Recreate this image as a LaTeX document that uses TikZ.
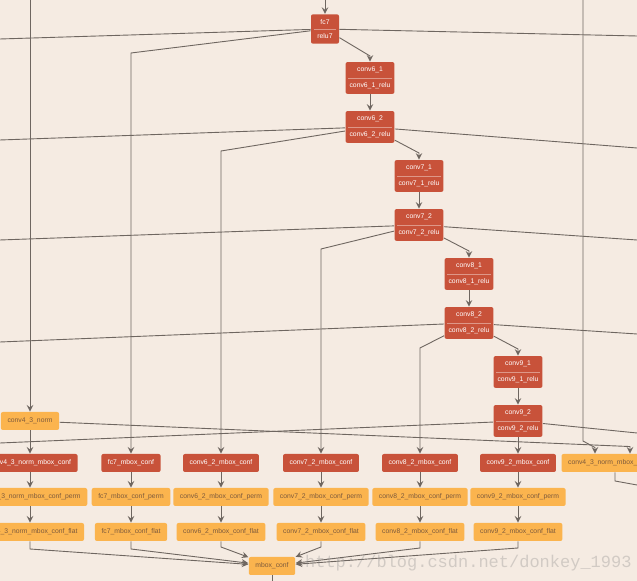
\documentclass[tikz,border=0pt]{standalone}
\usepackage{fontspec}
\setmainfont{Liberation Sans}
\setmonofont{Liberation Mono}
\usetikzlibrary{shapes.multipart}
\definecolor{paper}{HTML}{F5EBE2}
\definecolor{convred}{HTML}{C8523A}
\definecolor{blobgold}{HTML}{FBB44E}
\definecolor{goldtext}{HTML}{7D5A3C}
\definecolor{edgegray}{HTML}{6E6660}

\begin{document}
\begin{tikzpicture}[x=0.5pt, y=-0.5pt, ->, >=stealth, line width=0.45pt, edgegray,
	layer/.style={rectangle split, rectangle split parts=2, fill=convred, text=white, rounded corners=1pt, inner xsep=2pt, inner ysep=2.2pt, font=\fontsize{3.4}{4}\selectfont},
	conf/.style={rectangle, fill=convred, text=white, rounded corners=1pt, minimum height=9pt, inner xsep=3.3pt, inner ysep=0pt, font=\fontsize{3.4}{4}\selectfont},
	blob/.style={conf, fill=blobgold, text=goldtext}]
	\useasboundingbox (0,0) rectangle (637,581);
	\clip (0,0) rectangle (637,581);
	\fill[paper] (0,0) rectangle (637,581);

	\node[layer, minimum width=14pt] (fc7) at (325,29) {fc7\nodepart{two}relu7};
	\node[layer] (conv61) at (370,78) {conv6\_1\nodepart{two}conv6\_1\_relu};
	\node[layer] (conv62) at (370,127) {conv6\_2\nodepart{two}conv6\_2\_relu};
	\node[layer] (conv71) at (419,176) {conv7\_1\nodepart{two}conv7\_1\_relu};
	\node[layer] (conv72) at (419,225) {conv7\_2\nodepart{two}conv7\_2\_relu};
	\node[layer] (conv81) at (469,274) {conv8\_1\nodepart{two}conv8\_1\_relu};
	\node[layer] (conv82) at (469,323) {conv8\_2\nodepart{two}conv8\_2\_relu};
	\node[layer] (conv91) at (518,372) {conv9\_1\nodepart{two}conv9\_1\_relu};
	\node[layer] (conv92) at (518,421) {conv9\_2\nodepart{two}conv9\_2\_relu};
	\foreach \n in {fc7,conv61,conv62,conv71,conv72,conv81,conv82,conv91,conv92}
		\draw[-, white, opacity=.4, line width=0.3pt] ([xshift=1.5pt]\n.text split west) -- ([xshift=-1.5pt]\n.text split east);

	\node[blob] (norm) at (30,421) {conv4\_3\_norm};

	\node[conf] (normconf) at (30,463) {conv4\_3\_norm\_mbox\_conf};
	\node[conf] (fc7conf) at (131,463) {fc7\_mbox\_conf};
	\node[conf] (c62conf) at (221,463) {conv6\_2\_mbox\_conf};
	\node[conf] (c72conf) at (321,463) {conv7\_2\_mbox\_conf};
	\node[conf] (c82conf) at (420,463) {conv8\_2\_mbox\_conf};
	\node[conf] (c92conf) at (518,463) {conv9\_2\_mbox\_conf};
	\node[blob] (normprior) at (615,463) {conv4\_3\_norm\_mbox\_priorbox};

	\node[blob] (normperm) at (30,497) {conv4\_3\_norm\_mbox\_conf\_perm};
	\node[blob] (fc7perm) at (131,497) {fc7\_mbox\_conf\_perm};
	\node[blob] (c62perm) at (221,497) {conv6\_2\_mbox\_conf\_perm};
	\node[blob] (c72perm) at (321,497) {conv7\_2\_mbox\_conf\_perm};
	\node[blob] (c82perm) at (420,497) {conv8\_2\_mbox\_conf\_perm};
	\node[blob] (c92perm) at (518,497) {conv9\_2\_mbox\_conf\_perm};

	\node[blob] (normflat) at (30,532) {conv4\_3\_norm\_mbox\_conf\_flat};
	\node[blob] (fc7flat) at (131,532) {fc7\_mbox\_conf\_flat};
	\node[blob] (c62flat) at (221,532) {conv6\_2\_mbox\_conf\_flat};
	\node[blob] (c72flat) at (321,532) {conv7\_2\_mbox\_conf\_flat};
	\node[blob] (c82flat) at (420,532) {conv8\_2\_mbox\_conf\_flat};
	\node[blob] (c92flat) at (518,532) {conv9\_2\_mbox\_conf\_flat};

	\node[blob] (mboxconf) at (272,566) {mbox\_conf};

	\coordinate (fc7in) at (325,0);
	\coordinate (normin) at (30,0);
	\coordinate (datain) at (583,0);
	\coordinate (fc7l) at (0,39);
	\coordinate (fc7r) at (637,36);
	\coordinate (conv62l) at (0,140);
	\coordinate (conv62r) at (637,148);
	\coordinate (conv72l) at (0,240);
	\coordinate (conv72r) at (637,240);
	\coordinate (conv82l) at (0,342);
	\coordinate (conv82r) at (637,334);
	\coordinate (conv92l) at (0,443);
	\coordinate (conv92r) at (637,433);
	\coordinate (priorout) at (637,485);
	\coordinate (confout) at (272,581);

	\draw (fc7in) -- (fc7);
	\draw (normin) -- (norm);
	\draw (datain) -- (583,441) -- ([shift={(-20,-6)}]normprior.north) -- ([xshift=-10pt]normprior.north);
	\draw (fc7) -- (conv61.north |- 0,56) -- (conv61);
	\draw (fc7) -- (fc7conf.north |- 0,53) -- (fc7conf);
	\draw[-] (fc7) -- (fc7l);
	\draw[-] (fc7) -- (fc7r);
	\draw (conv61) -- (conv62);
	\draw (conv62) -- (conv71.north |- 0,153) -- (conv71);
	\draw (conv62) -- (c62conf.north |- 0,151) -- (c62conf);
	\draw[-] (conv62) -- (conv62l);
	\draw[-] (conv62) -- (conv62r);
	\draw (conv71) -- (conv72);
	\draw (conv72) -- (conv81.north |- 0,251) -- (conv81);
	\draw (conv72) -- (c72conf.north |- 0,249) -- (c72conf);
	\draw[-] (conv72) -- (conv72l);
	\draw[-] (conv72) -- (conv72r);
	\draw (conv81) -- (conv82);
	\draw (conv82) -- (conv91.north |- 0,349) -- (conv91);
	\draw (conv82) -- (c82conf.north |- 0,348) -- (c82conf);
	\draw[-] (conv82) -- (conv82l);
	\draw[-] (conv82) -- (conv82r);
	\draw (conv91) -- (conv92);
	\draw (conv92) -- (c92conf);
	\draw[-] (conv92) -- (conv92l);
	\draw[-] (conv92) -- (conv92r);
	\draw (norm) -- (normconf);
	\draw (norm) -- ([shift={(15,-7)}]normprior.north) -- ([xshift=7.5pt]normprior.north);
	\draw[-] (normprior) -- (normprior.south |- 0,481) -- (priorout);

	\draw (normconf) -- (normperm);
	\draw (fc7conf) -- (fc7perm);
	\draw (c62conf) -- (c62perm);
	\draw (c72conf) -- (c72perm);
	\draw (c82conf) -- (c82perm);
	\draw (c92conf) -- (c92perm);
	\draw (normperm) -- (normflat);
	\draw (fc7perm) -- (fc7flat);
	\draw (c62perm) -- (c62flat);
	\draw (c72perm) -- (c72flat);
	\draw (c82perm) -- (c82flat);
	\draw (c92perm) -- (c92flat);

	\draw (normflat) -- (normflat.south |- 0,549) -- (mboxconf);
	\draw (fc7flat) -- (fc7flat.south |- 0,549) -- (mboxconf);
	\draw (c62flat) -- (c62flat.south |- 0,547) -- (mboxconf);
	\draw (c72flat) -- (c72flat.south |- 0,547) -- (mboxconf);
	\draw (c82flat) -- (c82flat.south |- 0,548) -- (mboxconf);
	\draw (c92flat) -- (c92flat.south |- 0,548) -- (mboxconf);
	\draw[-] (mboxconf) -- (confout);

	\node[anchor=west, font=\ttfamily\fontsize{8.5}{9}\selectfont, text=gray, opacity=.3] (mark) at (298,563) {http://blog.csdn.net/donkey\_1993};
\end{tikzpicture}
\end{document}
